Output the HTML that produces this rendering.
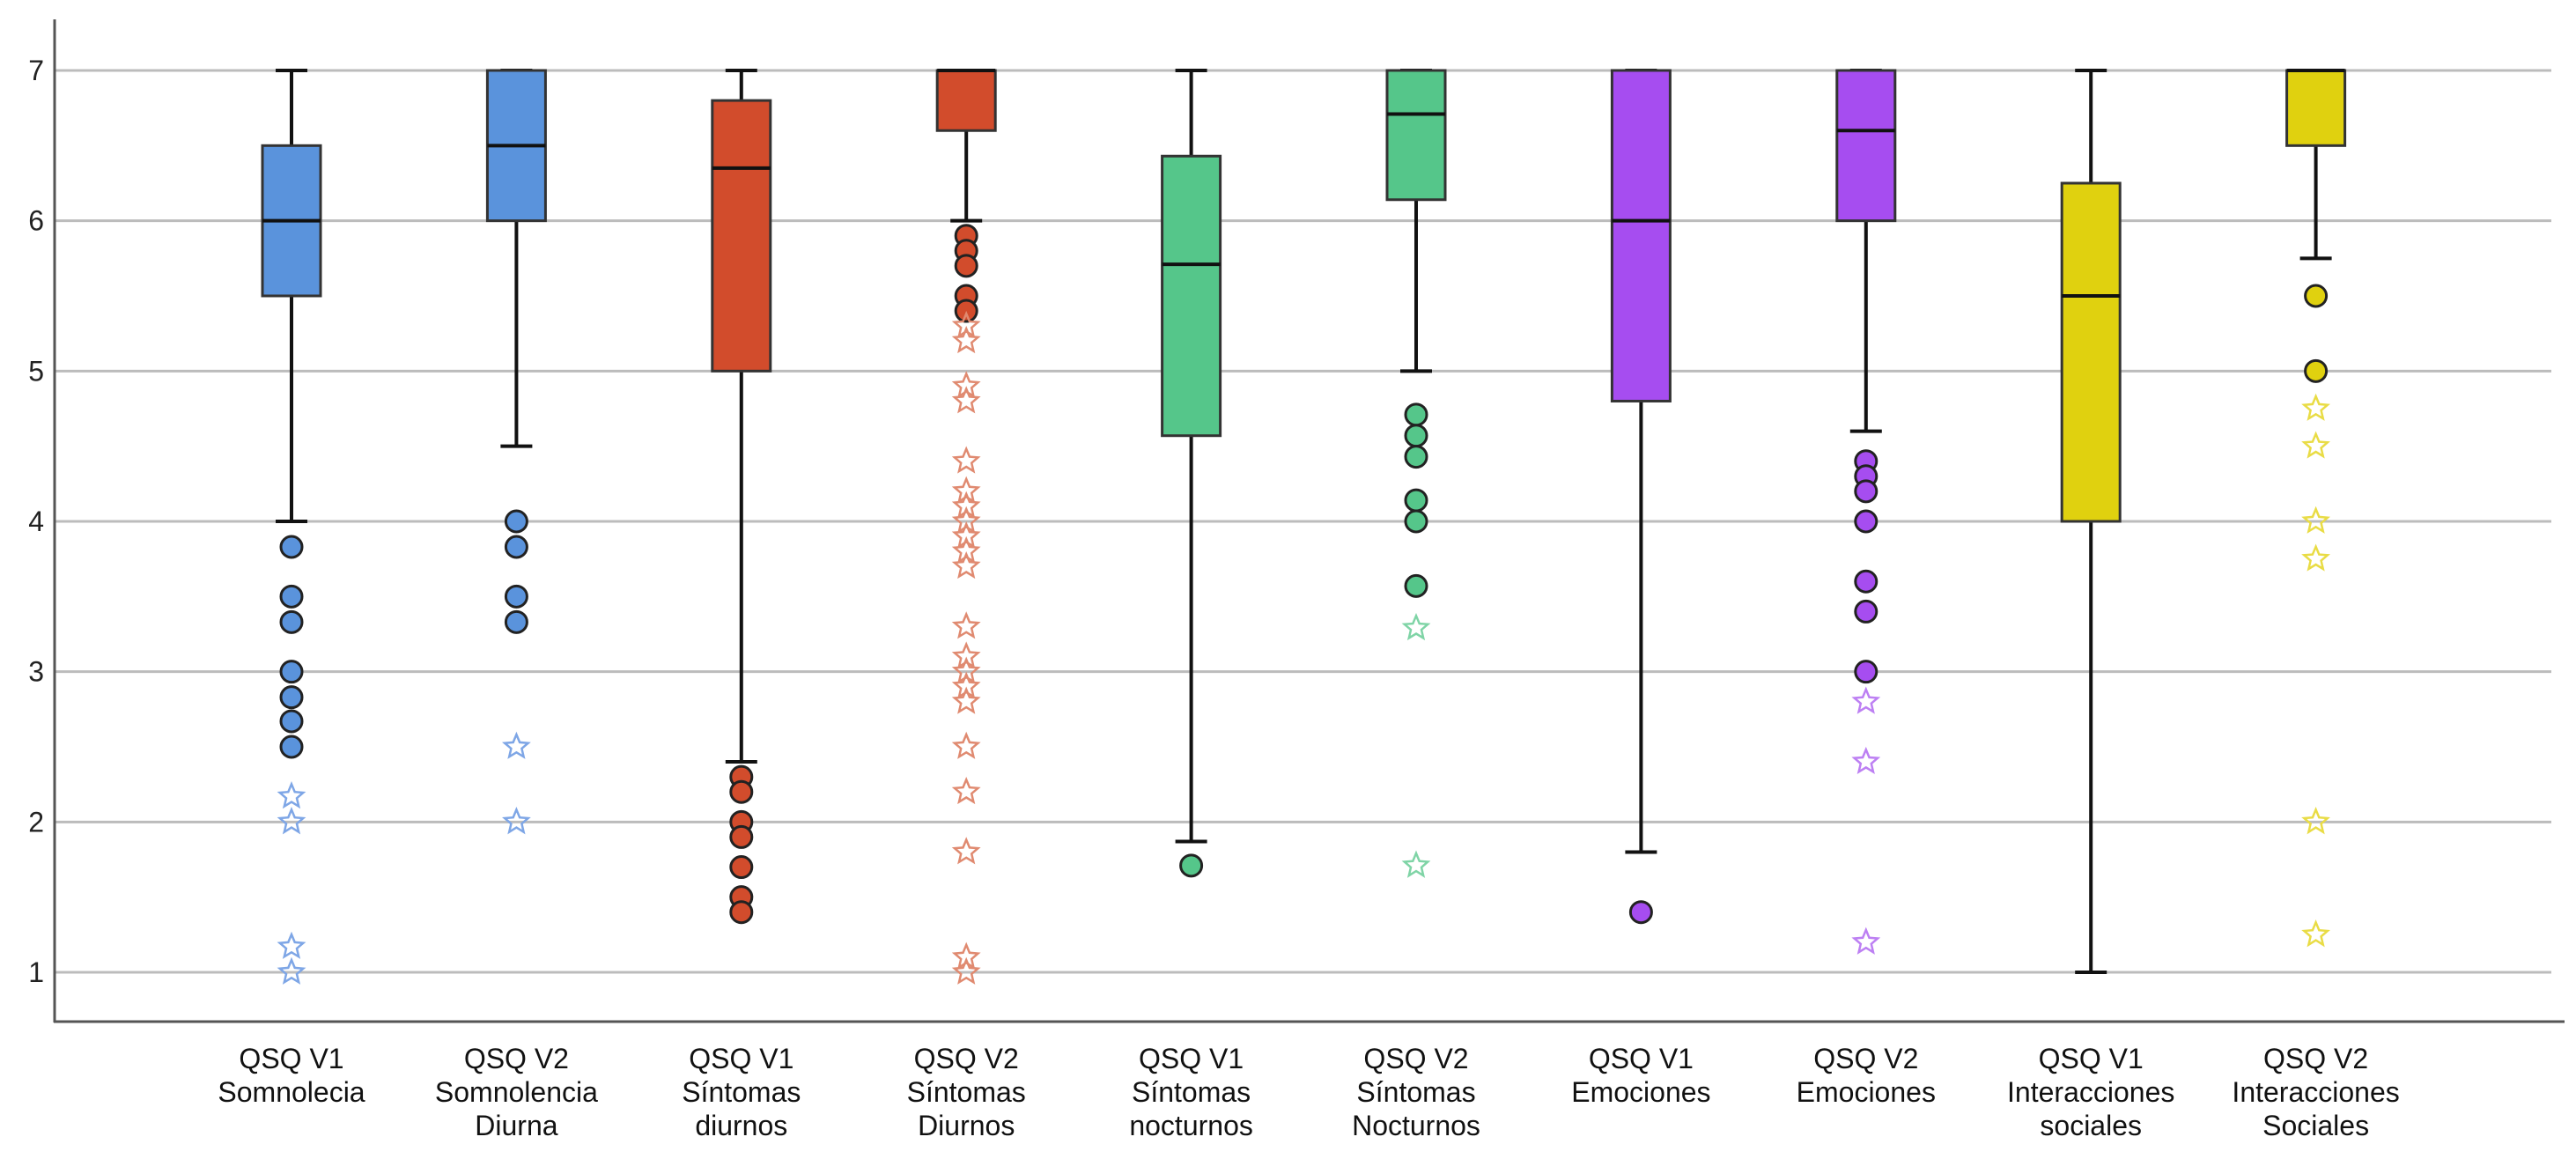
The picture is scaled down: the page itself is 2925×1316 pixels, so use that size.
<!DOCTYPE html>
<html><head><meta charset="utf-8"><style>
html,body{margin:0;padding:0;background:#fff}
svg{display:block}
text{font-family:"Liberation Sans",sans-serif}
</style></head><body>
<svg id="chart" width="2925" height="1316" viewBox="0 0 2925 1316" xmlns="http://www.w3.org/2000/svg"></svg>
<script>
const categories=[["QSQ V1","Somnolecia"],["QSQ V2","Somnolencia","Diurna"],["QSQ V1","Síntomas","diurnos"],["QSQ V2","Síntomas","Diurnos"],["QSQ V1","Síntomas","nocturnos"],["QSQ V2","Síntomas","Nocturnos"],["QSQ V1","Emociones"],["QSQ V2","Emociones"],["QSQ V1","Interacciones","sociales"],["QSQ V2","Interacciones","Sociales"]];
const whiskerLow=[4,4.5,2.4,6.0,1.87,5.0,1.8,4.6,1,5.75];
const whiskerHigh=[7,7,7,7,7,7,7,7,7,7];
const q1=[5.5,6,5,6.6,4.57,6.14,4.8,6,4,6.5];
const q3=[6.5,7,6.8,7,6.43,7,7,7,6.25,7];
const medians=[6,6.5,6.35,7,5.71,6.71,6,6.6,5.5,7];
const circleOutliers=[[3.83,3.5,3.33,3.0,2.83,2.67,2.5],[4.0,3.83,3.5,3.33],[2.3,2.2,2.0,1.9,1.7,1.5,1.4],[5.9,5.8,5.7,5.5,5.4],[1.71],[4.71,4.57,4.43,4.14,4.0,3.57],[1.4],[4.4,4.3,4.2,4.0,3.6,3.4,3.0],[],[5.5,5.0]];
const starOutliers=[[2.17,2.0,1.17,1.0],[2.5,2.0],[],[5.3,5.2,4.9,4.8,4.4,4.2,4.1,4.0,3.9,3.8,3.7,3.3,3.1,3.0,2.9,2.8,2.5,2.2,1.8,1.1,1.0],[],[3.29,1.71],[],[2.8,2.4,1.2],[],[4.75,4.5,4.0,3.75,2.0,1.25]];
const yTicks=[1,2,3,4,5,6,7];
const fills=["#5a93dc","#5a93dc","#d24c2c","#d24c2c","#55c68a","#55c68a","#a64df0","#a64df0","#e0d10f","#e0d10f"];
const starColors=["#7ea6e6","#7ea6e6","#e08a70","#e08a70","#7fd4a6","#7fd4a6","#bd80f3","#bd80f3","#e9dc45","#e9dc45"];

const svg=document.getElementById('chart');
const NS='http://www.w3.org/2000/svg';
function mk(tag,attrs,parent){const e=document.createElementNS(NS,tag);for(const k in attrs)e.setAttribute(k,attrs[k]);(parent||svg).appendChild(e);return e;}
const Y=v=>1104-(v-1)*170.67;
const X=i=>331+i*255.4;
const BW=66;

yTicks.forEach(t=>{
  const g=mk('line',{x1:62,x2:2897,y1:Y(t),y2:Y(t),stroke:'#bcbcbc','stroke-width':3});
  
  
  const tx=mk('text',{x:50,y:Y(t)+11,'text-anchor':'end','font-size':32,fill:'#222'});
  tx.textContent=t;
  
  
});
const ax=mk('line',{x1:62,x2:62,y1:22,y2:1161,stroke:'#555','stroke-width':3});


const bx=mk('line',{x1:61,x2:2912,y1:1160,y2:1160,stroke:'#555','stroke-width':3});



function starPts(cx,cy,r){let p=[];for(let k=0;k<10;k++){const a=-Math.PI/2+k*Math.PI/5;const rr=k%2?r*0.45:r;p.push((cx+rr*Math.cos(a)).toFixed(1)+','+(cy+rr*Math.sin(a)).toFixed(1));}return p.join(' ');}

categories.forEach((c,i)=>{
  const cx=X(i);
  const g=mk('g',{});
  
  
  const w=mk('line',{x1:cx,x2:cx,y1:Y(whiskerLow[i]),y2:Y(whiskerHigh[i]),stroke:'#111','stroke-width':4},g);
  
  
  [whiskerLow[i],whiskerHigh[i]].forEach(v=>{
    const cap=mk('line',{x1:cx-18,x2:cx+18,y1:Y(v),y2:Y(v),stroke:'#111','stroke-width':4},g);
    
    
  });
  const r=mk('rect',{x:cx-BW/2,y:Y(q3[i]),width:BW,height:Y(q1[i])-Y(q3[i]),fill:fills[i],stroke:'#333','stroke-width':3},g);
  
  
  const m=mk('line',{x1:cx-BW/2,x2:cx+BW/2,y1:Y(medians[i]),y2:Y(medians[i]),stroke:'#111','stroke-width':4},g);
  
  
  circleOutliers[i].forEach(v=>{
    const o=mk('circle',{cx:cx,cy:Y(v),r:12,fill:fills[i],stroke:'#222','stroke-width':3},g);
    
    
  });
  starOutliers[i].forEach(v=>{
    const s=mk('polygon',{points:starPts(cx,Y(v),14),fill:'none',stroke:starColors[i],'stroke-width':2.5},g);
    
    
  });
  const t=mk('text',{'text-anchor':'middle','font-size':32,fill:'#111'});
  
  
  c.forEach((ln,j)=>{const ts=mk('tspan',{x:cx,y:1213+j*38},t);ts.textContent=ln;});
});
</script>
</body></html>
